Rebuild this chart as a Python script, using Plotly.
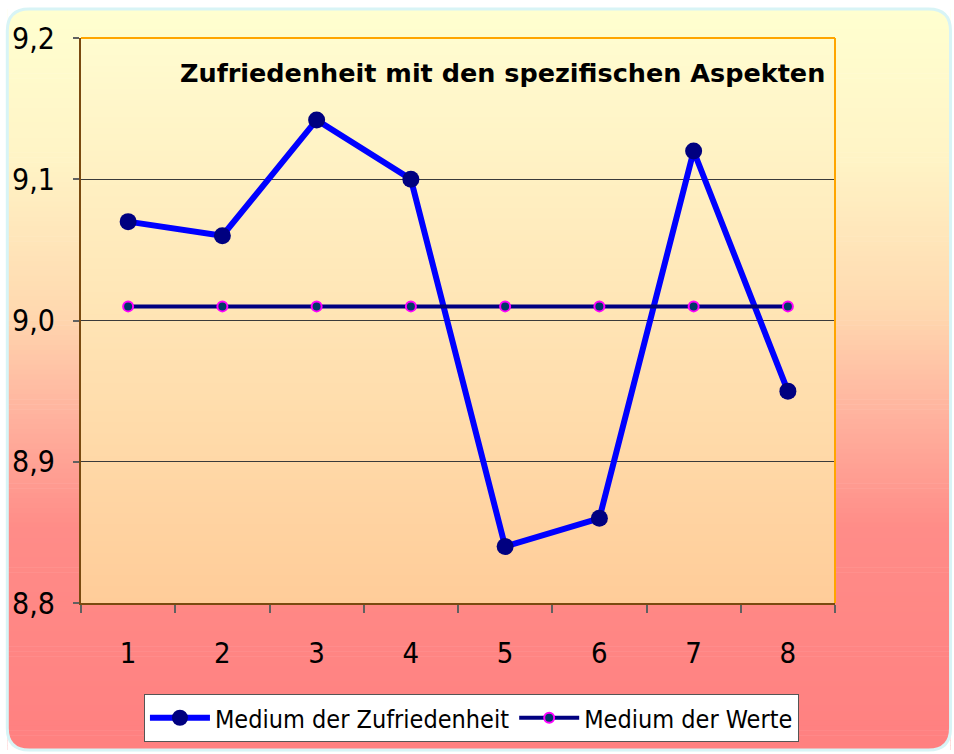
import numpy as np
import plotly.graph_objects as go

categories = [1, 2, 3, 4, 5, 6, 7, 8]
zufriedenheit = [9.07, 9.06, 9.142, 9.10, 8.84, 8.86, 9.12, 8.95]
werte = [9.01, 9.01, 9.01, 9.01, 9.01, 9.01, 9.01, 9.01]
y_ticks = [8.8, 8.9, 9.0, 9.1, 9.2]
title_text = "Zufriedenheit mit den spezifischen Aspekten"
series_names = ["Medium der Zufriedenheit", "Medium der Werte"]

W, H = 954, 754
L, R, T, B = 78, 835, 38, 603  # plot area in pixels


def px(x):
    return (x - L) / (R - L)


def py(y):
    return (B - y) / (B - T)


def interp_color(stops, t):
    for i in range(len(stops) - 1):
        t0, c0 = stops[i]
        t1, c1 = stops[i + 1]
        if t0 <= t <= t1:
            f = 0 if t1 == t0 else (t - t0) / (t1 - t0)
            c = [int(round(c0[k] + (c1[k] - c0[k]) * f)) for k in range(3)]
            return "rgb(%d,%d,%d)" % tuple(c)
    c = stops[-1][1]
    return "rgb(%d,%d,%d)" % tuple(c)


shapes = []
# outer gradient
OX0, OX1, OY0, OY1 = 4, 951, 9, 750
outer_stops = [(0.0, (255, 255, 208)), (0.2, (255, 244, 198)), (0.4, (255, 218, 176)),
               (0.55, (255, 178, 158)), (0.7, (255, 140, 136)), (1.0, (255, 128, 128))]
n = 150
for i in range(n):
    y0 = OY0 + (OY1 - OY0) * i / n
    y1 = OY0 + (OY1 - OY0) * (i + 1) / n + 0.6
    col = interp_color(outer_stops, (i + 0.5) / n)
    shapes.append(dict(type="rect", xref="paper", yref="paper", layer="below",
                       x0=px(OX0), x1=px(OX1), y0=py(y0), y1=py(min(y1, OY1)),
                       fillcolor=col, line=dict(width=0)))

# corner masks
r = 22


def P(x, y):
    return "%f,%f" % (px(x), py(y))


corners = [
    (OX0, OY0, 1, 1), (OX1, OY0, -1, 1), (OX0, OY1, 1, -1), (OX1, OY1, -1, -1)
]
for cx, cy, sx, sy in corners:
    path = "M %s L %s Q %s %s Z" % (P(cx, cy), P(cx + sx * r, cy), P(cx, cy), P(cx, cy + sy * r))
    shapes.append(dict(type="path", xref="paper", yref="paper", layer="below",
                       path=path, fillcolor="white", line=dict(width=0)))

# rounded border
border = ("M %s L %s Q %s %s L %s Q %s %s L %s Q %s %s L %s Q %s %s Z" % (
    P(OX0 + r, OY0), P(OX1 - r, OY0), P(OX1, OY0), P(OX1, OY0 + r),
    P(OX1, OY1 - r), P(OX1, OY1), P(OX1 - r, OY1),
    P(OX0 + r, OY1), P(OX0, OY1), P(OX0, OY1 - r),
    P(OX0, OY0 + r), P(OX0, OY0), P(OX0 + r, OY0)))
shapes.append(dict(type="path", xref="paper", yref="paper", layer="below",
                   path=border, line=dict(color="#D8F4F6", width=3)))

# inner plot gradient
inner_stops = [(0.0, (255, 252, 208)), (1.0, (255, 204, 153))]
n2 = 100
for i in range(n2):
    col = interp_color(inner_stops, (i + 0.5) / n2)
    shapes.append(dict(type="rect", xref="paper", yref="paper", layer="below",
                       x0=0, x1=1, y0=1 - i / n2, y1=max(0, 1 - (i + 1) / n2 - 0.003),
                       fillcolor=col, line=dict(width=0)))

# top and right orange border
shapes.append(dict(type="line", xref="paper", yref="paper", layer="above",
                   x0=0, x1=1, y0=1, y1=1, line=dict(color="#FFA500", width=2)))
shapes.append(dict(type="line", xref="paper", yref="paper", layer="above",
                   x0=1, x1=1, y0=0, y1=1, line=dict(color="#FFA500", width=2)))

fig = go.Figure()
fig.add_trace(go.Scatter(
    x=categories, y=zufriedenheit, name=series_names[0], mode="lines+markers",
    line=dict(color="#0000FF", width=6),
    marker=dict(color="#000080", size=17, line=dict(width=0)),
))
fig.add_trace(go.Scatter(
    x=categories, y=werte, name=series_names[1], mode="lines+markers",
    line=dict(color="#000080", width=4),
    marker=dict(color="#003868", size=10, line=dict(color="#FF00FF", width=2)),
))

font_family = "DejaVu Sans Condensed, DejaVu Sans, sans-serif"

fig.update_layout(
    width=W, height=H,
    margin=dict(l=L, r=W - R, t=T, b=H - B, pad=0),
    paper_bgcolor="white",
    plot_bgcolor="rgba(0,0,0,0)",
    separators=",.",
    shapes=shapes,
    showlegend=True,
    legend=dict(orientation="h", x=px(470), xanchor="center", y=py(694), yanchor="top",
                bgcolor="white", bordercolor="#555555", borderwidth=1,
                font=dict(family=font_family, size=25, color="black"),
                itemwidth=60, tracegroupgap=0),
    annotations=[dict(text="<b>%s</b>" % title_text, xref="paper", yref="paper",
                      x=px(827), y=py(73), xanchor="right", yanchor="middle",
                      showarrow=False,
                      font=dict(family="DejaVu Sans, sans-serif", size=25.5, color="black"))],
)

fig.update_xaxes(
    range=[0.5, 8.5], tickvals=categories, ticktext=[str(c) for c in categories],
    ticks="", showgrid=False, zeroline=False,
    showline=True, linecolor="#7A4A10", linewidth=2,
    tickfont=dict(family=font_family, size=29, color="black"),
    ticklabelstandoff=23,
    minor=dict(tickvals=[c + 0.5 for c in [0] + categories], ticks="outside",
               ticklen=8, tickcolor="#606060", tickwidth=1.5, showgrid=False),
)
fig.update_yaxes(
    range=[8.8, 9.2], tickvals=y_ticks, tickformat=".1f",
    ticks="outside", ticklen=6, tickcolor="#606060", tickwidth=1.5,
    showgrid=True, gridcolor="#3A3A3A", gridwidth=1, zeroline=False,
    showline=True, linecolor="#7A4A10", linewidth=2,
    tickfont=dict(family=font_family, size=30, color="black"),
    ticklabelstandoff=12,
)

fig.write_html("out.html", config={"displayModeBar": False},
               post_script="document.body.style.margin='0';")
